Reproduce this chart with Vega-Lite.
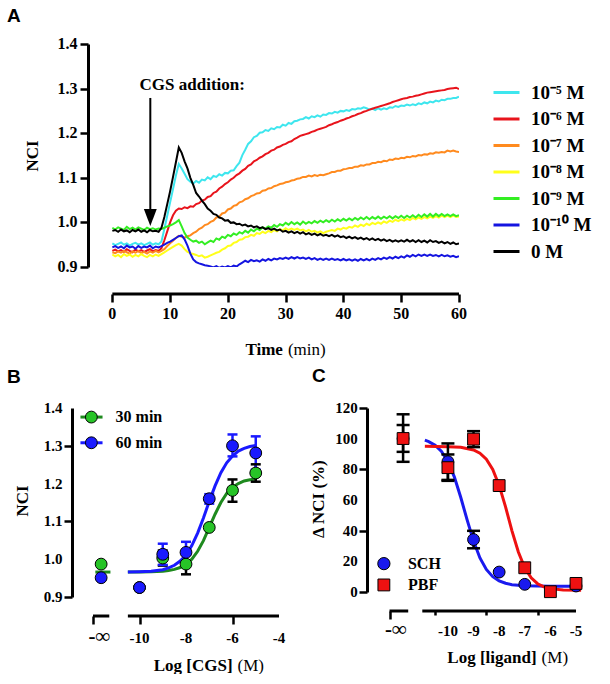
{
"$schema": "https://vega.github.io/schema/vega-lite/v6.json",
"background": "white",
"padding": {"left": 7, "top": 6, "right": 0, "bottom": 0},
"config": {
 "view": {"stroke": null},
 "text": {"font": "Liberation Serif", "fontWeight": "bold", "fontSize": 17, "color": "black"}
},
"datasets": {
 "bpts": [
  {"s":"30 min","x":-11.65,"y":0.987},
  {"s":"30 min","x":-10,"y":0.925},
  {"s":"30 min","x":-9,"y":1.003,"lo":0.983,"hi":1.023},
  {"s":"30 min","x":-8,"y":0.987,"lo":0.96,"hi":1.014},
  {"s":"30 min","x":-7,"y":1.084},
  {"s":"30 min","x":-6,"y":1.182,"lo":1.152,"hi":1.211},
  {"s":"30 min","x":-5,"y":1.228,"lo":1.205,"hi":1.251},
  {"s":"60 min","x":-11.65,"y":0.951},
  {"s":"60 min","x":-10,"y":0.925},
  {"s":"60 min","x":-9,"y":1.013,"lo":0.985,"hi":1.041},
  {"s":"60 min","x":-8,"y":1.018,"lo":0.99,"hi":1.046},
  {"s":"60 min","x":-7,"y":1.16,"lo":1.147,"hi":1.172},
  {"s":"60 min","x":-6,"y":1.3,"lo":1.272,"hi":1.33},
  {"s":"60 min","x":-5,"y":1.281,"lo":1.237,"hi":1.325}
 ],
 "cpts": [
  {"s":"SCH","x":-11.75,"y":100,"lo":84.9,"hi":115.9},
  {"s":"SCH","x":-10,"y":85,"lo":73.1,"hi":96.9},
  {"s":"SCH","x":-9,"y":34.2,"lo":28.5,"hi":39.9},
  {"s":"SCH","x":-8,"y":13},
  {"s":"SCH","x":-7,"y":5},
  {"s":"SCH","x":-5,"y":3.9},
  {"s":"PBF","x":-11.75,"y":100.1,"lo":91.4,"hi":108.9},
  {"s":"PBF","x":-10,"y":81.1,"lo":72.5,"hi":89.7},
  {"s":"PBF","x":-9,"y":99.7,"lo":94.5,"hi":104.9},
  {"s":"PBF","x":-8,"y":69.4},
  {"s":"PBF","x":-7,"y":15.8},
  {"s":"PBF","x":-6,"y":0.2},
  {"s":"PBF","x":-5,"y":5.6}
 ],
 "ncilab": [{"v":0.9,"l":"0.9"},{"v":1.0,"l":"1.0"},{"v":1.1,"l":"1.1"},{"v":1.2,"l":"1.2"},{"v":1.3,"l":"1.3"},{"v":1.4,"l":"1.4"}]
},
"bounds": "flush",
"spacing": 141,
"resolve": {"scale": {"color": "independent"}},
"vconcat": [
 {
  "width": 366, "height": 223,
  "layer": [
   {
    "data": {"values": [
{"t":0,"a":0.953,"b":0.936,"c":0.933,"d":0.928,"e":0.988,"f":0.944,"g":0.981},
{"t":0.5,"a":0.949,"b":0.939,"c":0.931,"d":0.924,"e":0.984,"f":0.947,"g":0.983},
{"t":1,"a":0.952,"b":0.935,"c":0.935,"d":0.927,"e":0.989,"f":0.943,"g":0.979},
{"t":1.5,"a":0.955,"b":0.938,"c":0.932,"d":0.922,"e":0.986,"f":0.946,"g":0.984},
{"t":2,"a":0.950,"b":0.934,"c":0.936,"d":0.929,"e":0.983,"f":0.942,"g":0.980},
{"t":2.5,"a":0.953,"b":0.940,"c":0.933,"d":0.925,"e":0.990,"f":0.948,"g":0.982},
{"t":3,"a":0.948,"b":0.936,"c":0.930,"d":0.928,"e":0.985,"f":0.944,"g":0.978},
{"t":3.5,"a":0.952,"b":0.933,"c":0.935,"d":0.923,"e":0.988,"f":0.946,"g":0.983},
{"t":4,"a":0.954,"b":0.939,"c":0.932,"d":0.927,"e":0.984,"f":0.941,"g":0.980},
{"t":4.5,"a":0.950,"b":0.935,"c":0.936,"d":0.924,"e":0.989,"f":0.947,"g":0.984},
{"t":5,"a":0.953,"b":0.938,"c":0.931,"d":0.929,"e":0.986,"f":0.943,"g":0.979},
{"t":5.5,"a":0.949,"b":0.934,"c":0.934,"d":0.925,"e":0.983,"f":0.946,"g":0.982},
{"t":6,"a":0.952,"b":0.937,"c":0.930,"d":0.922,"e":0.988,"f":0.944,"g":0.978},
{"t":6.5,"a":0.955,"b":0.940,"c":0.935,"d":0.927,"e":0.985,"f":0.948,"g":0.983},
{"t":7,"a":0.950,"b":0.935,"c":0.932,"d":0.924,"e":0.987,"f":0.942,"g":0.980},
{"t":7.5,"a":0.953,"b":0.938,"c":0.936,"d":0.928,"e":0.984,"f":0.946,"g":0.981},
{"t":8,"a":0.951,"b":0.936,"c":0.933,"d":0.925,"e":0.986,"f":0.944,"g":0.979},
{"t":8.5,"a":0.957,"b":0.942,"c":0.936,"d":0.929,"e":0.985,"f":0.947,"g":0.988},
{"t":9,"a":0.985,"b":0.960,"c":0.940,"d":0.933,"e":0.988,"f":0.950,"g":1.012},
{"t":9.5,"a":1.015,"b":0.980,"c":0.947,"d":0.937,"e":0.991,"f":0.954,"g":1.041},
{"t":10,"a":1.045,"b":1.000,"c":0.953,"d":0.941,"e":0.993,"f":0.957,"g":1.070},
{"t":10.5,"a":1.075,"b":1.016,"c":0.959,"d":0.945,"e":0.996,"f":0.961,"g":1.102},
{"t":11,"a":1.105,"b":1.026,"c":0.965,"d":0.949,"e":1.000,"f":0.965,"g":1.135},
{"t":11.5,"a":1.131,"b":1.031,"c":0.970,"d":0.952,"e":1.005,"f":0.969,"g":1.168},
{"t":12,"a":1.121,"b":1.030,"c":0.968,"d":0.948,"e":0.991,"f":0.971,"g":1.156},
{"t":12.5,"a":1.109,"b":1.034,"c":0.966,"d":0.940,"e":0.976,"f":0.962,"g":1.137},
{"t":13,"a":1.097,"b":1.032,"c":0.969,"d":0.934,"e":0.966,"f":0.948,"g":1.121},
{"t":13.5,"a":1.091,"b":1.036,"c":0.971,"d":0.931,"e":0.961,"f":0.930,"g":1.100},
{"t":14,"a":1.087,"b":1.035,"c":0.976,"d":0.929,"e":0.957,"f":0.917,"g":1.084},
{"t":14.5,"a":1.093,"b":1.041,"c":0.979,"d":0.927,"e":0.959,"f":0.911,"g":1.066},
{"t":15,"a":1.089,"b":1.043,"c":0.985,"d":0.924,"e":0.954,"f":0.908,"g":1.058},
{"t":15.5,"a":1.096,"b":1.049,"c":0.988,"d":0.926,"e":0.957,"f":0.906,"g":1.049},
{"t":16,"a":1.094,"b":1.051,"c":0.994,"d":0.921,"e":0.951,"f":0.904,"g":1.041},
{"t":16.5,"a":1.101,"b":1.057,"c":0.996,"d":0.923,"e":0.955,"f":0.903,"g":1.031},
{"t":17,"a":1.097,"b":1.059,"c":1.001,"d":0.926,"e":0.959,"f":0.901,"g":1.026},
{"t":17.5,"a":1.104,"b":1.066,"c":1.004,"d":0.929,"e":0.956,"f":0.899,"g":1.019},
{"t":18,"a":1.102,"b":1.069,"c":1.011,"d":0.932,"e":0.964,"f":0.902,"g":1.017},
{"t":18.5,"a":1.108,"b":1.076,"c":1.013,"d":0.934,"e":0.961,"f":0.898,"g":1.011},
{"t":19,"a":1.105,"b":1.080,"c":1.020,"d":0.939,"e":0.968,"f":0.901,"g":1.009},
{"t":19.5,"a":1.111,"b":1.086,"c":1.022,"d":0.942,"e":0.965,"f":0.899,"g":1.004},
{"t":20,"a":1.110,"b":1.090,"c":1.029,"d":0.947,"e":0.972,"f":0.902,"g":1.005},
{"t":20.5,"a":1.116,"b":1.096,"c":1.031,"d":0.948,"e":0.969,"f":0.899,"g":0.999},
{"t":21,"a":1.117,"b":1.100,"c":1.037,"d":0.954,"e":0.975,"f":0.903,"g":1.000},
{"t":21.5,"a":1.126,"b":1.106,"c":1.039,"d":0.956,"e":0.972,"f":0.901,"g":0.996},
{"t":22,"a":1.134,"b":1.110,"c":1.045,"d":0.961,"e":0.978,"f":0.906,"g":0.997},
{"t":22.5,"a":1.151,"b":1.116,"c":1.047,"d":0.962,"e":0.975,"f":0.910,"g":0.993},
{"t":23,"a":1.163,"b":1.120,"c":1.052,"d":0.967,"e":0.981,"f":0.914,"g":0.995},
{"t":23.5,"a":1.176,"b":1.127,"c":1.054,"d":0.968,"e":0.977,"f":0.911,"g":0.991},
{"t":24,"a":1.182,"b":1.130,"c":1.059,"d":0.972,"e":0.984,"f":0.916,"g":0.993},
{"t":24.5,"a":1.191,"b":1.137,"c":1.061,"d":0.970,"e":0.980,"f":0.913,"g":0.989},
{"t":25,"a":1.194,"b":1.140,"c":1.065,"d":0.976,"e":0.986,"f":0.915,"g":0.991},
{"t":25.5,"a":1.201,"b":1.145,"c":1.066,"d":0.974,"e":0.983,"f":0.912,"g":0.987},
{"t":26,"a":1.202,"b":1.148,"c":1.071,"d":0.979,"e":0.989,"f":0.917,"g":0.989},
{"t":26.5,"a":1.207,"b":1.153,"c":1.072,"d":0.976,"e":0.986,"f":0.914,"g":0.985},
{"t":27,"a":1.205,"b":1.156,"c":1.076,"d":0.981,"e":0.991,"f":0.918,"g":0.987},
{"t":27.5,"a":1.211,"b":1.161,"c":1.077,"d":0.978,"e":0.988,"f":0.915,"g":0.983},
{"t":28,"a":1.209,"b":1.163,"c":1.081,"d":0.983,"e":0.994,"f":0.919,"g":0.986},
{"t":28.5,"a":1.214,"b":1.168,"c":1.083,"d":0.980,"e":0.990,"f":0.917,"g":0.982},
{"t":29,"a":1.213,"b":1.170,"c":1.086,"d":0.985,"e":0.996,"f":0.920,"g":0.984},
{"t":29.5,"a":1.219,"b":1.174,"c":1.087,"d":0.982,"e":0.993,"f":0.918,"g":0.979},
{"t":30,"a":1.217,"b":1.176,"c":1.090,"d":0.987,"e":0.999,"f":0.921,"g":0.981},
{"t":30.5,"a":1.223,"b":1.180,"c":1.091,"d":0.983,"e":0.995,"f":0.918,"g":0.977},
{"t":31,"a":1.221,"b":1.182,"c":1.094,"d":0.986,"e":1.001,"f":0.922,"g":0.980},
{"t":31.5,"a":1.227,"b":1.187,"c":1.095,"d":0.983,"e":0.996,"f":0.919,"g":0.976},
{"t":32,"a":1.228,"b":1.190,"c":1.098,"d":0.986,"e":1.000,"f":0.922,"g":0.979},
{"t":32.5,"a":1.231,"b":1.194,"c":1.099,"d":0.982,"e":0.995,"f":0.919,"g":0.975},
{"t":33,"a":1.232,"b":1.196,"c":1.102,"d":0.984,"e":1.002,"f":0.921,"g":0.978},
{"t":33.5,"a":1.236,"b":1.198,"c":1.102,"d":0.980,"e":0.997,"f":0.918,"g":0.973},
{"t":34,"a":1.233,"b":1.200,"c":1.105,"d":0.983,"e":1.001,"f":0.921,"g":0.976},
{"t":34.5,"a":1.238,"b":1.203,"c":1.103,"d":0.979,"e":0.998,"f":0.917,"g":0.972},
{"t":35,"a":1.236,"b":1.205,"c":1.106,"d":0.981,"e":1.003,"f":0.920,"g":0.975},
{"t":35.5,"a":1.240,"b":1.208,"c":1.104,"d":0.977,"e":0.999,"f":0.916,"g":0.971},
{"t":36,"a":1.237,"b":1.210,"c":1.107,"d":0.980,"e":1.004,"f":0.919,"g":0.974},
{"t":36.5,"a":1.242,"b":1.212,"c":1.106,"d":0.976,"e":1.000,"f":0.916,"g":0.970},
{"t":37,"a":1.241,"b":1.214,"c":1.108,"d":0.979,"e":1.005,"f":0.919,"g":0.972},
{"t":37.5,"a":1.245,"b":1.218,"c":1.110,"d":0.981,"e":1.001,"f":0.916,"g":0.969},
{"t":38,"a":1.244,"b":1.220,"c":1.113,"d":0.983,"e":1.006,"f":0.919,"g":0.972},
{"t":38.5,"a":1.248,"b":1.223,"c":1.113,"d":0.981,"e":1.002,"f":0.916,"g":0.968},
{"t":39,"a":1.246,"b":1.225,"c":1.116,"d":0.986,"e":1.007,"f":0.918,"g":0.971},
{"t":39.5,"a":1.250,"b":1.228,"c":1.116,"d":0.984,"e":1.003,"f":0.915,"g":0.967},
{"t":40,"a":1.249,"b":1.230,"c":1.119,"d":0.988,"e":1.008,"f":0.918,"g":0.969},
{"t":40.5,"a":1.252,"b":1.233,"c":1.120,"d":0.986,"e":1.004,"f":0.915,"g":0.965},
{"t":41,"a":1.250,"b":1.235,"c":1.122,"d":0.990,"e":1.009,"f":0.917,"g":0.968},
{"t":41.5,"a":1.254,"b":1.238,"c":1.122,"d":0.988,"e":1.005,"f":0.914,"g":0.964},
{"t":42,"a":1.253,"b":1.240,"c":1.125,"d":0.993,"e":1.010,"f":0.917,"g":0.967},
{"t":42.5,"a":1.256,"b":1.243,"c":1.125,"d":0.990,"e":1.006,"f":0.914,"g":0.963},
{"t":43,"a":1.255,"b":1.245,"c":1.128,"d":0.995,"e":1.011,"f":0.918,"g":0.966},
{"t":43.5,"a":1.258,"b":1.248,"c":1.127,"d":0.992,"e":1.007,"f":0.915,"g":0.962},
{"t":44,"a":1.256,"b":1.250,"c":1.130,"d":0.997,"e":1.012,"f":0.918,"g":0.965},
{"t":44.5,"a":1.253,"b":1.253,"c":1.130,"d":0.994,"e":1.007,"f":0.915,"g":0.961},
{"t":45,"a":1.255,"b":1.255,"c":1.133,"d":0.999,"e":1.012,"f":0.919,"g":0.964},
{"t":45.5,"a":1.252,"b":1.257,"c":1.133,"d":0.996,"e":1.008,"f":0.916,"g":0.960},
{"t":46,"a":1.256,"b":1.259,"c":1.136,"d":1.000,"e":1.013,"f":0.920,"g":0.963},
{"t":46.5,"a":1.253,"b":1.261,"c":1.135,"d":0.997,"e":1.008,"f":0.917,"g":0.959},
{"t":47,"a":1.256,"b":1.263,"c":1.138,"d":1.002,"e":1.013,"f":0.921,"g":0.962},
{"t":47.5,"a":1.254,"b":1.265,"c":1.137,"d":0.999,"e":1.009,"f":0.918,"g":0.958},
{"t":48,"a":1.258,"b":1.267,"c":1.141,"d":1.004,"e":1.014,"f":0.922,"g":0.961},
{"t":48.5,"a":1.257,"b":1.270,"c":1.140,"d":1.001,"e":1.009,"f":0.919,"g":0.957},
{"t":49,"a":1.261,"b":1.272,"c":1.143,"d":1.006,"e":1.014,"f":0.923,"g":0.960},
{"t":49.5,"a":1.259,"b":1.274,"c":1.142,"d":1.003,"e":1.010,"f":0.920,"g":0.957},
{"t":50,"a":1.262,"b":1.276,"c":1.145,"d":1.007,"e":1.015,"f":0.924,"g":0.960},
{"t":50.5,"a":1.261,"b":1.278,"c":1.144,"d":1.004,"e":1.010,"f":0.921,"g":0.957},
{"t":51,"a":1.264,"b":1.279,"c":1.147,"d":1.008,"e":1.015,"f":0.926,"g":0.961},
{"t":51.5,"a":1.262,"b":1.281,"c":1.146,"d":1.005,"e":1.011,"f":0.923,"g":0.957},
{"t":52,"a":1.265,"b":1.282,"c":1.149,"d":1.010,"e":1.016,"f":0.927,"g":0.960},
{"t":52.5,"a":1.263,"b":1.284,"c":1.148,"d":1.007,"e":1.011,"f":0.924,"g":0.956},
{"t":53,"a":1.267,"b":1.285,"c":1.151,"d":1.011,"e":1.017,"f":0.928,"g":0.960},
{"t":53.5,"a":1.265,"b":1.287,"c":1.150,"d":1.008,"e":1.012,"f":0.925,"g":0.956},
{"t":54,"a":1.269,"b":1.289,"c":1.153,"d":1.012,"e":1.018,"f":0.928,"g":0.959},
{"t":54.5,"a":1.267,"b":1.291,"c":1.152,"d":1.009,"e":1.013,"f":0.925,"g":0.955},
{"t":55,"a":1.271,"b":1.292,"c":1.155,"d":1.013,"e":1.019,"f":0.928,"g":0.960},
{"t":55.5,"a":1.269,"b":1.293,"c":1.154,"d":1.010,"e":1.013,"f":0.925,"g":0.956},
{"t":56,"a":1.273,"b":1.294,"c":1.157,"d":1.014,"e":1.019,"f":0.927,"g":0.958},
{"t":56.5,"a":1.271,"b":1.295,"c":1.156,"d":1.011,"e":1.014,"f":0.924,"g":0.954},
{"t":57,"a":1.275,"b":1.296,"c":1.158,"d":1.015,"e":1.019,"f":0.927,"g":0.957},
{"t":57.5,"a":1.274,"b":1.297,"c":1.157,"d":1.012,"e":1.014,"f":0.924,"g":0.953},
{"t":58,"a":1.277,"b":1.299,"c":1.161,"d":1.015,"e":1.018,"f":0.926,"g":0.956},
{"t":58.5,"a":1.277,"b":1.300,"c":1.159,"d":1.012,"e":1.014,"f":0.923,"g":0.952},
{"t":59,"a":1.279,"b":1.301,"c":1.161,"d":1.015,"e":1.018,"f":0.925,"g":0.955},
{"t":59.5,"a":1.279,"b":1.302,"c":1.159,"d":1.012,"e":1.014,"f":0.922,"g":0.951},
{"t":60,"a":1.282,"b":1.299,"c":1.158,"d":1.013,"e":1.016,"f":0.924,"g":0.953}
    ]},
    "transform": [{"fold": ["a","b","c","d","e","f","g"], "as": ["k","v"]}],
    "mark": {"type": "line", "clip": true, "strokeWidth": 2},
    "encoding": {
     "x": {"field": "t", "type": "quantitative", "scale": {"domain": [-3.35, 60], "nice": false, "zero": false},
      "axis": {"values": [0,5,10,15,20,25,30,35,40,45,50,55,60], "offset": 27, "domain": false, "title": null, "grid": false, "labels": false, "labelExpr": "''",
       "tickColor": "black", "tickWidth": 2.5,
       "tickSize": {"condition": {"test": "datum.value % 10 == 0", "value": 8}, "value": 4}}},
     "y": {"field": "v", "type": "quantitative", "scale": {"domain": [0.9, 1.4], "nice": false, "zero": false},
      "axis": {"values": [0.9,0.95,1,1.05,1.1,1.15,1.2,1.25,1.3,1.35,1.4], "offset": 5, "title": null, "grid": false, "labels": false, "labelExpr": "''",
       "domainColor": "black", "domainWidth": 3, "tickColor": "black", "tickWidth": 2.5,
       "tickSize": {"condition": {"test": "indexof([0.9,1,1.1,1.2,1.3,1.4], datum.value) >= 0", "value": 8}, "value": 4}}},
     "color": {"field": "k", "type": "nominal",
      "scale": {"domain": ["a","b","c","d","e","f","g"], "range": ["#3ee6ee","#e8141c","#ff8a1e","#ffff1a","#33ee22","#1414e0","#000000"]},
      "legend": {"title": null, "orient": "none", "legendX": 399, "legendY": 34, "symbolType": "stroke", "symbolSize": 676, "symbolStrokeWidth": 3, "labelFont": "Liberation Serif", "labelFontWeight": "bold", "labelFontSize": 19, "labelColor": "black", "labelOffset": 10, "rowPadding": 1.5, "padding": 0,
       "labelExpr": "datum.label == 'a' ? '10⁻⁵ M' : datum.label == 'b' ? '10⁻⁶ M' : datum.label == 'c' ? '10⁻⁷ M' : datum.label == 'd' ? '10⁻⁸ M' : datum.label == 'e' ? '10⁻⁹ M' : datum.label == 'f' ? '10⁻¹⁰ M' : '0 M'"}}
    }
   },
   {"data": {"values": [{}]}, "mark": {"type": "rule", "strokeWidth": 3, "color": "black"}, "encoding": {"x": {"datum": 0}, "x2": {"datum": 60}, "y": {"datum": 0.8395}}},
   {"data": {"values": [{"v":0,"l":"0"},{"v":10,"l":"10"},{"v":20,"l":"20"},{"v":30,"l":"30"},{"v":40,"l":"40"},{"v":50,"l":"50"},{"v":60,"l":"60"}]},
    "mark": {"type": "text", "fontSize": 16, "baseline": "alphabetic", "align": "center"},
    "encoding": {"x": {"field": "v", "type": "quantitative"}, "y": {"datum": 0.7834}, "text": {"field": "l", "type": "nominal"}}},
   {"data": {"name": "ncilab"},
    "mark": {"type": "text", "fontSize": 16, "baseline": "middle", "align": "right"},
    "encoding": {"x": {"datum": -6.05}, "y": {"field": "v", "type": "quantitative"}, "text": {"field": "l", "type": "nominal"}}},
   {"data": {"values": [{}]}, "mark": {"type": "text", "text": "NCI", "angle": 270, "fontSize": 17}, "encoding": {"x": {"datum": -13.67}, "y": {"datum": 1.149}}},
   {"data": {"values": [{}]}, "mark": {"type": "rule", "strokeWidth": 2, "color": "black"}, "encoding": {"x": {"datum": 6.57}, "y": {"datum": 1.279}, "y2": {"datum": 1.011}}},
   {"data": {"values": [{}]}, "mark": {"type": "point", "shape": "M-0.76,-1L0.76,-1L0,1Z", "size": 289, "filled": true, "color": "black", "opacity": 1}, "encoding": {"x": {"datum": 6.57}, "y": {"datum": 1.011}}},
   {"data": {"values": [{}]}, "mark": {"type": "text", "text": "CGS addition:", "fontSize": 17}, "encoding": {"x": {"datum": 13.83}, "y": {"datum": 1.308}}},
   {"data": {"values": [{}]}, "mark": {"type": "text", "text": "A", "font": "Liberation Sans", "fontSize": 19}, "encoding": {"x": {"datum": -17.04}, "y": {"datum": 1.463}}},
   {"data": {"values": [{}]}, "mark": {"type": "text", "text": "Time", "align": "right", "dx": -2}, "encoding": {"x": {"datum": 29.87}, "y": {"datum": 0.714}}},
   {"data": {"values": [{}]}, "mark": {"type": "text", "text": "(min)", "align": "left", "dx": 3, "fontWeight": "normal"}, "encoding": {"x": {"datum": 29.87}, "y": {"datum": 0.714}}}
  ]
 },
 {
  "bounds": "flush",
  "spacing": 110,
  "resolve": {"scale": {"color": "independent"}},
  "hconcat": [
   {
    "width": 186, "height": 189,
    "layer": [
     {
      "data": {"values": [
       {"s":"30 min","x":-10.5,"y":0.966},{"s":"30 min","x":-10,"y":0.966},{"s":"30 min","x":-9.5,"y":0.967},{"s":"30 min","x":-9,"y":0.968},{"s":"30 min","x":-8.75,"y":0.970},{"s":"30 min","x":-8.5,"y":0.973},{"s":"30 min","x":-8.25,"y":0.978},{"s":"30 min","x":-8,"y":0.986},{"s":"30 min","x":-7.75,"y":1.000},{"s":"30 min","x":-7.5,"y":1.021},{"s":"30 min","x":-7.25,"y":1.049},{"s":"30 min","x":-7,"y":1.084},{"s":"30 min","x":-6.75,"y":1.119},{"s":"30 min","x":-6.5,"y":1.150},{"s":"30 min","x":-6.25,"y":1.174},{"s":"30 min","x":-6,"y":1.190},{"s":"30 min","x":-5.75,"y":1.200},{"s":"30 min","x":-5.5,"y":1.207},{"s":"30 min","x":-5.25,"y":1.210},{"s":"30 min","x":-5,"y":1.212},
       {"s":"60 min","x":-10.5,"y":0.966},{"s":"60 min","x":-10,"y":0.967},{"s":"60 min","x":-9.5,"y":0.968},{"s":"60 min","x":-9,"y":0.972},{"s":"60 min","x":-8.75,"y":0.977},{"s":"60 min","x":-8.5,"y":0.984},{"s":"60 min","x":-8.25,"y":0.995},{"s":"60 min","x":-8,"y":1.011},{"s":"60 min","x":-7.75,"y":1.036},{"s":"60 min","x":-7.5,"y":1.069},{"s":"60 min","x":-7.25,"y":1.109},{"s":"60 min","x":-7,"y":1.153},{"s":"60 min","x":-6.75,"y":1.194},{"s":"60 min","x":-6.5,"y":1.229},{"s":"60 min","x":-6.25,"y":1.255},{"s":"60 min","x":-6,"y":1.273},{"s":"60 min","x":-5.75,"y":1.286},{"s":"60 min","x":-5.5,"y":1.293},{"s":"60 min","x":-5.25,"y":1.298},{"s":"60 min","x":-5,"y":1.301}
      ]},
      "mark": {"type": "line", "strokeWidth": 3},
      "encoding": {
       "x": {"field": "x", "type": "quantitative", "scale": {"domain": [-12, -4], "nice": false, "zero": false},
        "axis": {"values": [-12,-11.65,-11.3,-10.5,-10,-9,-8,-7,-6,-5,-4], "offset": 19, "domain": false, "title": null, "grid": false, "labels": false, "labelExpr": "''",
         "tickColor": "black", "tickWidth": 2.5,
         "tickSize": {"condition": {"test": "indexof([-12,-11.3,-10.5,-10,-8,-6,-4], datum.value) >= 0", "value": 8}, "value": 4}}},
       "y": {"field": "y", "type": "quantitative", "scale": {"domain": [0.9, 1.4], "nice": false, "zero": false},
        "axis": {"values": [0.9,0.95,1,1.05,1.1,1.15,1.2,1.25,1.3,1.35,1.4], "offset": 21, "title": null, "grid": false, "labels": false, "labelExpr": "''",
         "domainColor": "black", "domainWidth": 3, "tickColor": "black", "tickWidth": 2.5,
         "tickSize": {"condition": {"test": "indexof([0.9,1,1.1,1.2,1.3,1.4], datum.value) >= 0", "value": 8}, "value": 4}}},
       "color": {"field": "s", "type": "nominal", "scale": {"domain": ["30 min","60 min"], "range": ["#1e8a1e","#1a1aff"]}, "legend": null}
      }
     },
     {"data": {"values": [{}]}, "mark": {"type": "rule", "strokeWidth": 3, "color": "#1e8a1e"}, "encoding": {"x": {"datum": -11.9}, "x2": {"datum": -11.25}, "y": {"datum": 0.966}}},
     {"data": {"name": "bpts"}, "transform": [{"filter": "isValid(datum.lo)"}], "mark": {"type": "rule", "strokeWidth": 2.5},
      "encoding": {"x": {"field": "x", "type": "quantitative"}, "y": {"field": "lo", "type": "quantitative"}, "y2": {"field": "hi"},
       "color": {"condition": {"test": "datum.s == '60 min'", "value": "#1a1aff"}, "value": "black"}}},
     {"data": {"name": "bpts"}, "transform": [{"filter": "isValid(datum.lo)"}], "mark": {"type": "tick", "orient": "horizontal", "size": 10, "thickness": 2.5, "opacity": 1},
      "encoding": {"x": {"field": "x", "type": "quantitative"}, "y": {"field": "lo", "type": "quantitative"},
       "color": {"condition": {"test": "datum.s == '60 min'", "value": "#1a1aff"}, "value": "black"}}},
     {"data": {"name": "bpts"}, "transform": [{"filter": "isValid(datum.lo)"}], "mark": {"type": "tick", "orient": "horizontal", "size": 10, "thickness": 2.5, "opacity": 1},
      "encoding": {"x": {"field": "x", "type": "quantitative"}, "y": {"field": "hi", "type": "quantitative"},
       "color": {"condition": {"test": "datum.s == '60 min'", "value": "#1a1aff"}, "value": "black"}}},
     {"data": {"name": "bpts"}, "mark": {"type": "point", "filled": true, "size": 140, "stroke": "black", "strokeWidth": 1, "opacity": 1},
      "encoding": {"x": {"field": "x", "type": "quantitative"}, "y": {"field": "y", "type": "quantitative"},
       "fill": {"condition": {"test": "datum.s == '60 min'", "value": "#1a1aff"}, "value": "#27c427"}}},
     {"data": {"values": [{}]}, "mark": {"type": "rule", "strokeWidth": 3, "color": "black"}, "encoding": {"x": {"datum": -12}, "x2": {"datum": -11.3}, "y": {"datum": 0.8497}}},
     {"data": {"values": [{}]}, "mark": {"type": "rule", "strokeWidth": 3, "color": "black"}, "encoding": {"x": {"datum": -10.5}, "x2": {"datum": -4}, "y": {"datum": 0.8497}}},
     {"data": {"values": [{"v":-10,"l":"-10"},{"v":-8,"l":"-8"},{"v":-6,"l":"-6"},{"v":-4,"l":"-4"}]},
      "mark": {"type": "text", "fontSize": 15, "baseline": "alphabetic", "align": "center"},
      "encoding": {"x": {"field": "v", "type": "quantitative"}, "y": {"datum": 0.7783}, "text": {"field": "l", "type": "nominal"}}},
     {"data": {"values": [{"v":-11.72,"l":"-∞"}]},
      "mark": {"type": "text", "fontSize": 21, "baseline": "alphabetic", "align": "center"},
      "encoding": {"x": {"field": "v", "type": "quantitative"}, "y": {"datum": 0.7783}, "text": {"field": "l", "type": "nominal"}}},
     {"data": {"name": "ncilab"},
      "mark": {"type": "text", "fontSize": 15, "baseline": "middle", "align": "right"},
      "encoding": {"x": {"datum": -13.31}, "y": {"field": "v", "type": "quantitative"}, "text": {"field": "l", "type": "nominal"}}},
     {"data": {"values": [{}]}, "mark": {"type": "text", "text": "NCI", "angle": 270, "fontSize": 17}, "encoding": {"x": {"datum": -15.03}, "y": {"datum": 1.154}}},
     {"data": {"values": [{}]}, "mark": {"type": "rule", "strokeWidth": 3, "color": "#1e8a1e"}, "encoding": {"x": {"datum": -12.54}, "x2": {"datum": -11.59}, "y": {"datum": 1.376}}},
     {"data": {"values": [{}]}, "mark": {"type": "point", "filled": true, "size": 140, "stroke": "black", "strokeWidth": 1, "fill": "#27c427", "opacity": 1}, "encoding": {"x": {"datum": -12.07}, "y": {"datum": 1.376}}},
     {"data": {"values": [{}]}, "mark": {"type": "text", "text": "30 min", "align": "left", "fontSize": 16}, "encoding": {"x": {"datum": -11.03}, "y": {"datum": 1.376}}},
     {"data": {"values": [{}]}, "mark": {"type": "rule", "strokeWidth": 3, "color": "#1a1aff"}, "encoding": {"x": {"datum": -12.54}, "x2": {"datum": -11.59}, "y": {"datum": 1.308}}},
     {"data": {"values": [{}]}, "mark": {"type": "point", "filled": true, "size": 140, "stroke": "black", "strokeWidth": 1, "fill": "#1a1aff", "opacity": 1}, "encoding": {"x": {"datum": -12.07}, "y": {"datum": 1.308}}},
     {"data": {"values": [{}]}, "mark": {"type": "text", "text": "60 min", "align": "left", "fontSize": 16}, "encoding": {"x": {"datum": -11.03}, "y": {"datum": 1.308}}},
     {"data": {"values": [{}]}, "mark": {"type": "text", "text": "B", "font": "Liberation Sans", "fontSize": 19}, "encoding": {"x": {"datum": -15.4}, "y": {"datum": 1.482}}},
     {"data": {"values": [{}]}, "mark": {"type": "text", "text": "Log [CGS]", "align": "right", "dx": -2}, "encoding": {"x": {"datum": -5.91}, "y": {"datum": 0.7175}}},
     {"data": {"values": [{}]}, "mark": {"type": "text", "text": "(M)", "align": "left", "dx": 3, "fontWeight": "normal"}, "encoding": {"x": {"datum": -5.91}, "y": {"datum": 0.7175}}}
    ]
   },
   {
    "width": 187, "height": 184,
    "layer": [
     {
      "data": {"values": [
       {"s":"SCH","x":-10.9,"y":99.0},{"s":"SCH","x":-10.75,"y":98.1},{"s":"SCH","x":-10.5,"y":95.7},{"s":"SCH","x":-10.25,"y":91.7},{"s":"SCH","x":-10,"y":85.0},{"s":"SCH","x":-9.75,"y":75.1},{"s":"SCH","x":-9.5,"y":61.8},{"s":"SCH","x":-9.25,"y":47.0},{"s":"SCH","x":-9,"y":33.2},{"s":"SCH","x":-8.75,"y":22.2},{"s":"SCH","x":-8.5,"y":14.7},{"s":"SCH","x":-8.25,"y":10.0},{"s":"SCH","x":-8,"y":7.3},{"s":"SCH","x":-7.75,"y":5.7},{"s":"SCH","x":-7.5,"y":4.8},{"s":"SCH","x":-7,"y":4.1},{"s":"SCH","x":-6.5,"y":3.9},{"s":"SCH","x":-6,"y":3.8},{"s":"SCH","x":-4.8,"y":3.8},
       {"s":"PBF","x":-10.9,"y":95.0},{"s":"PBF","x":-10,"y":94.8},{"s":"PBF","x":-9.5,"y":94.4},{"s":"PBF","x":-9,"y":92.6},{"s":"PBF","x":-8.75,"y":90.5},{"s":"PBF","x":-8.5,"y":86.6},{"s":"PBF","x":-8.25,"y":79.9},{"s":"PBF","x":-8,"y":69.5},{"s":"PBF","x":-7.75,"y":55.5},{"s":"PBF","x":-7.5,"y":39.9},{"s":"PBF","x":-7.25,"y":26.1},{"s":"PBF","x":-7,"y":15.8},{"s":"PBF","x":-6.75,"y":9.2},{"s":"PBF","x":-6.5,"y":5.4},{"s":"PBF","x":-6.25,"y":3.3},{"s":"PBF","x":-6,"y":2.2},{"s":"PBF","x":-5.5,"y":1.3},{"s":"PBF","x":-4.8,"y":1.1}
      ]},
      "mark": {"type": "line", "strokeWidth": 3},
      "encoding": {
       "x": {"field": "x", "type": "quantitative", "scale": {"domain": [-12.3, -5], "nice": false, "zero": false},
        "axis": {"values": [-12.28,-11.9,-11.55,-11,-10.5,-10,-9.5,-9,-8.5,-8,-7.5,-7,-6.5,-6,-5.5,-5], "offset": 19, "domain": false, "title": null, "grid": false, "labels": false, "labelExpr": "''",
         "tickColor": "black", "tickWidth": 2.5,
         "tickSize": {"condition": {"test": "indexof([-12.28,-11.55,-11,-10,-9,-8,-7,-6,-5], datum.value) >= 0", "value": 8}, "value": 4}}},
       "y": {"field": "y", "type": "quantitative", "scale": {"domain": [0, 120], "nice": false, "zero": false},
        "axis": {"values": [0,10,20,30,40,50,60,70,80,90,100,110,120], "offset": 22, "title": null, "grid": false, "labels": false, "labelExpr": "''",
         "domainColor": "black", "domainWidth": 3, "tickColor": "black", "tickWidth": 2.5,
         "tickSize": {"condition": {"test": "datum.value % 20 == 0", "value": 8}, "value": 4}}},
       "color": {"field": "s", "type": "nominal", "scale": {"domain": ["SCH","PBF"], "range": ["#1a1aee","#ee1111"]}, "legend": null}
      }
     },
     {"data": {"name": "cpts"}, "transform": [{"filter": "isValid(datum.lo)"}], "mark": {"type": "rule", "strokeWidth": 2.5, "color": "black"},
      "encoding": {"x": {"field": "x", "type": "quantitative"}, "y": {"field": "lo", "type": "quantitative"}, "y2": {"field": "hi"}}},
     {"data": {"name": "cpts"}, "transform": [{"filter": "isValid(datum.lo)"}], "mark": {"type": "tick", "orient": "horizontal", "size": 13, "thickness": 2.5, "color": "black", "opacity": 1},
      "encoding": {"x": {"field": "x", "type": "quantitative"}, "y": {"field": "lo", "type": "quantitative"}}},
     {"data": {"name": "cpts"}, "transform": [{"filter": "isValid(datum.lo)"}], "mark": {"type": "tick", "orient": "horizontal", "size": 13, "thickness": 2.5, "color": "black", "opacity": 1},
      "encoding": {"x": {"field": "x", "type": "quantitative"}, "y": {"field": "hi", "type": "quantitative"}}},
     {"data": {"name": "cpts"}, "mark": {"type": "point", "filled": true, "size": 140, "stroke": "black", "strokeWidth": 1, "opacity": 1},
      "encoding": {"x": {"field": "x", "type": "quantitative"}, "y": {"field": "y", "type": "quantitative"},
       "fill": {"condition": {"test": "datum.s == 'PBF'", "value": "#ee1111"}, "value": "#1a1aee"},
       "shape": {"condition": {"test": "datum.s == 'PBF'", "value": "square"}, "value": "circle"}}},
     {"data": {"values": [{}]}, "mark": {"type": "rule", "strokeWidth": 3, "color": "black"}, "encoding": {"x": {"datum": -12.28}, "x2": {"datum": -11.55}, "y": {"datum": -12.39}}},
     {"data": {"values": [{}]}, "mark": {"type": "rule", "strokeWidth": 3, "color": "black"}, "encoding": {"x": {"datum": -11}, "x2": {"datum": -5}, "y": {"datum": -12.39}}},
     {"data": {"values": [{"v":-10,"l":"-10"},{"v":-9,"l":"-9"},{"v":-8,"l":"-8"},{"v":-7,"l":"-7"},{"v":-6,"l":"-6"},{"v":-5,"l":"-5"}]},
      "mark": {"type": "text", "fontSize": 15, "baseline": "alphabetic", "align": "center"},
      "encoding": {"x": {"field": "v", "type": "quantitative"}, "y": {"datum": -28.7}, "text": {"field": "l", "type": "nominal"}}},
     {"data": {"values": [{"v":-12.03,"l":"-∞"}]},
      "mark": {"type": "text", "fontSize": 21, "baseline": "alphabetic", "align": "center"},
      "encoding": {"x": {"field": "v", "type": "quantitative"}, "y": {"datum": -28.7}, "text": {"field": "l", "type": "nominal"}}},
     {"data": {"values": [{"v":0,"l":"0"},{"v":20,"l":"20"},{"v":40,"l":"40"},{"v":60,"l":"60"},{"v":80,"l":"80"},{"v":100,"l":"100"},{"v":120,"l":"120"}]},
      "mark": {"type": "text", "fontSize": 15, "baseline": "middle", "align": "right"},
      "encoding": {"x": {"datum": -13.52}, "y": {"field": "v", "type": "quantitative"}, "text": {"field": "l", "type": "nominal"}}},
     {"data": {"values": [{}]}, "mark": {"type": "text", "text": "Δ NCI (%)", "angle": 270, "fontSize": 17}, "encoding": {"x": {"datum": -15.04}, "y": {"datum": 60.6}}},
     {"data": {"values": [{}]}, "mark": {"type": "point", "filled": true, "size": 150, "stroke": "black", "strokeWidth": 1, "fill": "#1a1aee", "opacity": 1}, "encoding": {"x": {"datum": -12.5}, "y": {"datum": 18.5}}},
     {"data": {"values": [{}]}, "mark": {"type": "text", "text": "SCH", "align": "left", "fontSize": 16}, "encoding": {"x": {"datum": -11.56}, "y": {"datum": 18.5}}},
     {"data": {"values": [{}]}, "mark": {"type": "point", "filled": true, "size": 140, "shape": "square", "stroke": "black", "strokeWidth": 1, "fill": "#ee1111", "opacity": 1}, "encoding": {"x": {"datum": -12.5}, "y": {"datum": 4.6}}},
     {"data": {"values": [{}]}, "mark": {"type": "text", "text": "PBF", "align": "left", "fontSize": 16}, "encoding": {"x": {"datum": -11.56}, "y": {"datum": 4.6}}},
     {"data": {"values": [{}]}, "mark": {"type": "text", "text": "C", "font": "Liberation Sans", "fontSize": 19}, "encoding": {"x": {"datum": -15.04}, "y": {"datum": 140.9}}},
     {"data": {"values": [{}]}, "mark": {"type": "text", "text": "Log [ligand]", "align": "right", "dx": -2}, "encoding": {"x": {"datum": -6.46}, "y": {"datum": -43.05}}},
     {"data": {"values": [{}]}, "mark": {"type": "text", "text": "(M)", "align": "left", "dx": 3, "fontWeight": "normal"}, "encoding": {"x": {"datum": -6.46}, "y": {"datum": -43.05}}}
    ]
   }
  ]
 }
]
}
